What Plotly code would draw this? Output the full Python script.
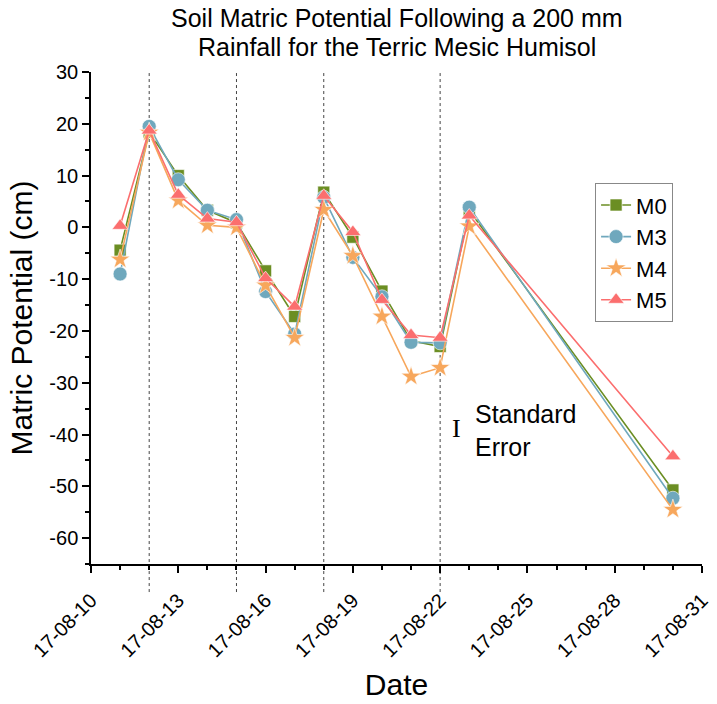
import plotly.graph_objects as go

dates = ["2017-08-11", "2017-08-12", "2017-08-13", "2017-08-14", "2017-08-15",
         "2017-08-16", "2017-08-17", "2017-08-18", "2017-08-19", "2017-08-20",
         "2017-08-21", "2017-08-22", "2017-08-23", "2017-08-30"]

m0 = [-4.4, 18.4, 10.0, 3.3, 0.9, -8.4, -17.2, 6.8, -1.9, -12.3, -21.9, -23.0, 3.3, -50.7]
m3 = [-9.0, 19.5, 9.2, 3.3, 1.5, -12.4, -20.6, 5.8, -5.8, -13.4, -22.2, -22.3, 3.9, -52.3]
m4 = [-6.2, 18.3, 5.2, 0.4, 0.0, -11.2, -21.3, 3.4, -5.5, -17.2, -28.8, -27.1, 0.2, -54.5]
m5 = [0.3, 18.7, 6.3, 1.7, 1.0, -9.8, -15.3, 6.1, -0.9, -14.0, -20.8, -21.3, 2.3, -44.2]

event_dates = ["2017-08-12", "2017-08-15", "2017-08-18", "2017-08-22"]

y_tickvals = [30, 20, 10, 0, -10, -20, -30, -40, -50, -60]
y_ticktext = ["30", "20", "10", "0", "-10", "-20", "-30", "-40", "-50", "-60"]

title_lines = ["Soil Matric Potential Following a 200 mm",
               "Rainfall for the Terric Mesic Humisol"]

series = [
    ("M0", m0, "#6b8e23", "square", 12),
    ("M3", m3, "#6fa8bd", "circle", 14),
    ("M4", m4, "#f7a75c", "star", 15),
    ("M5", m5, "#fb6e6e", "triangle-up", 14),
]

fig = go.Figure()
for name, vals, col, sym, sz in series:
    fig.add_trace(go.Scatter(
        x=dates, y=vals, name=name, mode="lines+markers",
        line=dict(color=col, width=1.6),
        marker=dict(symbol=sym, size=sz, color=col, line=dict(color="white", width=0.6)),
    ))

for d in event_dates:
    fig.add_shape(type="line", xref="x", yref="paper", x0=d, x1=d, y0=-0.057, y1=1,
                  line=dict(color="#444444", width=1, dash="dot"), layer="below")

PW, PH = 611, 492
TOP, BOT = 72, 564
for line_txt, yc in zip(title_lines, [18, 47]):
    fig.add_annotation(xref="paper", yref="paper", x=0.5, y=(BOT - yc) / PH,
                       xanchor="center", yanchor="middle", text=line_txt, showarrow=False,
                       font=dict(family="Liberation Sans", size=25, color="black"))

fig.add_annotation(xref="paper", yref="paper", x=(456 - 91) / PW, y=(BOT - 428) / PH,
                   xanchor="center", yanchor="middle",
                   text="I", showarrow=False,
                   font=dict(family="Liberation Serif", size=26, color="black"))
fig.add_annotation(xref="paper", yref="paper", x=(473 - 91) / PW, y=(BOT - 430) / PH,
                   xanchor="left", yanchor="middle", align="left", text="Standard<br>Error",
                   showarrow=False, font=dict(family="Liberation Sans", size=25, color="black"))

fig.update_layout(
    width=717, height=704,
    margin=dict(l=91, r=15, t=TOP, b=704 - BOT, autoexpand=False),
    paper_bgcolor="white", plot_bgcolor="white",
    font=dict(family="Liberation Sans", color="black"),
    legend=dict(x=0.825, y=0.774, xanchor="left", yanchor="top",
                bordercolor="#888888", borderwidth=1, bgcolor="white",
                font=dict(size=22, color="black"), tracegroupgap=0),
    xaxis=dict(
        type="date", range=["2017-08-10", "2017-08-31"], automargin=False,
        tick0="2017-08-10", dtick=3 * 86400000, tickformat="%y-%m-%d",
        tickangle=-45, ticks="outside", ticklen=7, tickwidth=1.5, tickcolor="black",
        ticklabelstandoff=8,
        tickfont=dict(size=20), showline=True, linecolor="black", linewidth=1.5,
        showgrid=False, zeroline=False,
        minor=dict(dtick=86400000, ticks="outside", ticklen=4, tickwidth=1.5, tickcolor="black", showgrid=False),
        title=dict(text="Date", font=dict(size=30), standoff=14),
    ),
    yaxis=dict(
        range=[-65, 30], tickmode="array", tickvals=y_tickvals, ticktext=y_ticktext,
        automargin=False,
        ticks="outside", ticklen=7, tickwidth=1.5, tickcolor="black",
        tickfont=dict(size=20), showline=True, linecolor="black", linewidth=1.5,
        showgrid=False, zeroline=False,
        minor=dict(dtick=5, tick0=0, ticks="outside", ticklen=4, tickwidth=1.5, tickcolor="black", showgrid=False),
        title=dict(text="Matric Potential (cm)", font=dict(size=30), standoff=8),
    ),
)

fig.write_html("out.html")
